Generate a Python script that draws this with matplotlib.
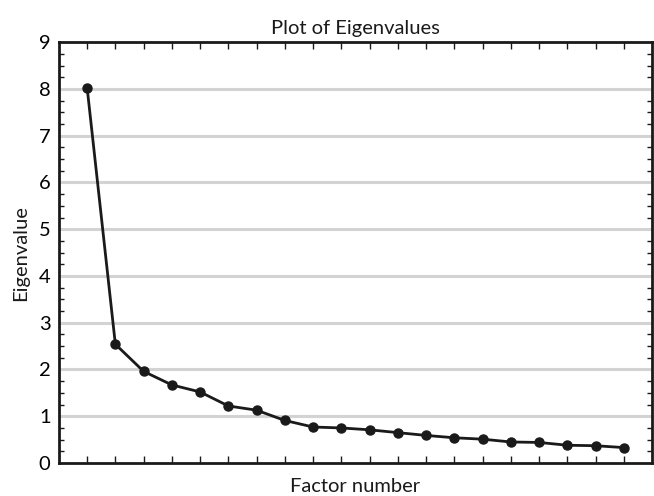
import matplotlib
matplotlib.use("Agg")
import matplotlib.pyplot as plt
import numpy as np

# scree plot values
factors = list(range(1, 21))
eigenvalues = [8.03, 2.54, 1.96, 1.67, 1.52, 1.22, 1.13, 0.91, 0.77, 0.75,
               0.71, 0.65, 0.59, 0.54, 0.51, 0.45, 0.44, 0.38, 0.37, 0.33]
y_ticks = list(range(0, 10))

plt.rcParams['font.family'] = ['Lato', 'DejaVu Sans']

fig = plt.figure(figsize=(6.54, 4.96), dpi=100)
ax = fig.add_axes([0.090, 0.0665, 0.907, 0.8485])

for v in y_ticks[1:-1]:
    ax.axhline(v, color='#d3d3d3', linewidth=2.2, zorder=1)

ax.plot(factors, eigenvalues, color='#1a1a1a', linewidth=2.0,
        marker='o', markersize=6.5, zorder=3)

ax.set_xlim(0, 21)
ax.set_ylim(0, 9)
ax.set_xticks(factors)
ax.set_xticklabels([])
ax.set_yticks(y_ticks)
ax.set_yticks(np.arange(0, 9.01, 0.25), minor=True)
ax.tick_params(axis='both', which='both', direction='in', top=True, right=True,
               color='#1a1a1a')
ax.tick_params(axis='x', which='major', length=5, width=1)
ax.tick_params(axis='y', which='major', length=0, labelsize=14.5, pad=6)
ax.tick_params(axis='y', which='minor', length=3.5, width=1)

for s in ax.spines.values():
    s.set_linewidth(2)
    s.set_color('#1a1a1a')

ax.set_title('Plot of Eigenvalues', fontsize=14.5, pad=6, color='#1a1a1a')
ax.set_xlabel('Factor number', fontsize=14.5, labelpad=7, color='#1a1a1a')
ax.set_ylabel('Eigenvalue', fontsize=14.5, labelpad=7, color='#1a1a1a')

fig.savefig('out.png', dpi=100)
